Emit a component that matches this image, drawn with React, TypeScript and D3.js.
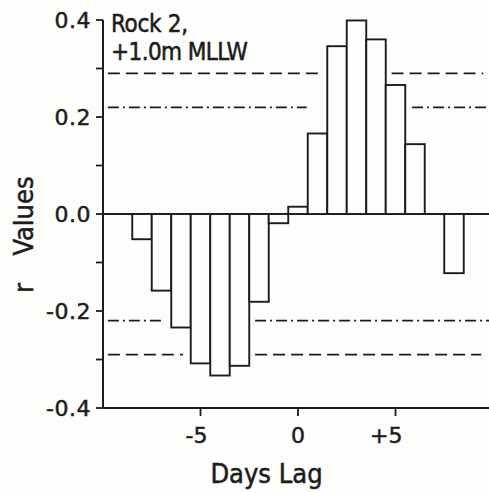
import React from "react"
import * as d3 from "d3"

// r values per day of lag (lag +7 has no bar)
const lags = [-8, -7, -6, -5, -4, -3, -2, -1, 0, 1, 2, 3, 4, 5, 6, 8]
const rValues = [-0.052, -0.158, -0.234, -0.308, -0.333, -0.313, -0.181, -0.019, 0.015, 0.166, 0.346, 0.399, 0.36, 0.266, 0.144, -0.122]

const yTicks = [0.4, 0.2, 0.0, -0.2, -0.4]
const yMinorTicks = [0.3, 0.1, -0.1, -0.3]
const xTicks = [-5, 0, 5]
const xTickLabels = ["-5", "0", "+5"]

// significance levels, drawn as broken lines (segments in lag units)
const sigLevels = [0.29, 0.22, -0.22, -0.29]
const sigStyles = ["dash", "dashdot", "dashdot", "dash"]
const sigSegments = [
  [[-9.75, 1.3], [4.8, 9.5]],
  [[-9.75, 0.45], [5.85, 10]],
  [[-9.75, -6.9], [-2.2, 10]],
  [[-9.75, -5.9], [-2.2, 9.4]],
]

const W = 489
const H = 493
const ink = "#1c1c1c"
const font = "'DejaVu Sans', sans-serif"
const condensed = "'DejaVu Sans Condensed', 'DejaVu Sans', sans-serif"

export default function App() {
  const x = d3.scaleLinear().domain([-10, 10]).range([103, 493])
  const y = d3.scaleLinear().domain([-0.4, 0.4]).range([408, 20])
  const bw = x(1) - x(0)
  const txt = { fill: ink, stroke: ink, strokeWidth: 0.5 }

  return (
    <svg width={W} height={H} style={{ position: "absolute", left: 0, top: 0, background: "#fdfdfb" }}>
      {/* significance lines */}
      {sigLevels.map((lv, i) =>
        sigSegments[i].map((s, j) => (
          <line key={i + "-" + j} x1={x(s[0])} x2={x(s[1])} y1={y(lv)} y2={y(lv)}
            stroke={ink} strokeWidth={1.8}
            strokeDasharray={sigStyles[i] === "dash" ? "12 6" : "11 4 2 4"} />
        ))
      )}

      {/* zero line */}
      <line x1={x(-10)} x2={x(10)} y1={y(0)} y2={y(0)} stroke={ink} strokeWidth={2} />

      {/* bars */}
      {lags.map((d, i) => (
        <rect key={d} x={x(d - 0.5)} width={bw}
          y={y(Math.max(0, rValues[i]))} height={Math.abs(y(rValues[i]) - y(0))}
          fill="#fdfdfb" stroke={ink} strokeWidth={1.9} />
      ))}

      {/* y axis */}
      <line x1={x(-10)} x2={x(-10)} y1={y(0.4)} y2={y(-0.4)} stroke={ink} strokeWidth={2} />
      {yTicks.concat(yMinorTicks).map((t) => (
        <line key={"yt" + t} x1={x(-10) - 7} x2={x(-10)} y1={y(t)} y2={y(t)} stroke={ink} strokeWidth={1.8} />
      ))}
      {yTicks.map((t) => (
        <text key={"yl" + t} x={x(-10) - 12} y={y(t)} dy="0.36em" textAnchor="end"
          fontFamily={font} fontSize={22} letterSpacing={0.5} {...txt}>
          {(t < 0 ? "-" : "") + Math.abs(t).toFixed(1)}
        </text>
      ))}

      {/* x axis */}
      <line x1={x(-10)} x2={x(10)} y1={y(-0.4)} y2={y(-0.4)} stroke={ink} strokeWidth={2} />
      {xTicks.map((t, i) => (
        <g key={"xt" + t}>
          <line x1={x(t)} x2={x(t)} y1={y(-0.4)} y2={y(-0.4) + 8} stroke={ink} strokeWidth={1.8} />
          <text x={x(t)} y={443} textAnchor="middle" fontFamily={font} fontSize={22} {...txt}>
            {xTickLabels[i].replace(/[-+]/, "")}
          </text>
          {/[-+]/.test(xTickLabels[i]) && (
            <text x={x(t) - 7} y={443} textAnchor="end" fontFamily={font} fontSize={22} {...txt}>
              {xTickLabels[i][0]}
            </text>
          )}
        </g>
      ))}

      {/* annotation */}
      <text x={111} y={32} fontFamily={condensed} fontSize={24} letterSpacing={-0.3} {...txt}>Rock 2,</text>
      <text x={111} y={60} fontFamily={condensed} fontSize={24} letterSpacing={-0.6} {...txt}>+1.0m MLLW</text>

      {/* axis titles */}
      <text transform="translate(33,216) rotate(-90)" textAnchor="middle" fontFamily={condensed} fontSize={27} {...txt}>
        Values
      </text>
      <text transform="translate(33,288) rotate(-90)" textAnchor="middle" fontFamily={condensed} fontSize={27} {...txt}>
        r
      </text>
      <text x={266.5} y={483} textAnchor="middle" fontFamily={condensed} fontSize={27} {...txt}>Days Lag</text>
    </svg>
  )
}
